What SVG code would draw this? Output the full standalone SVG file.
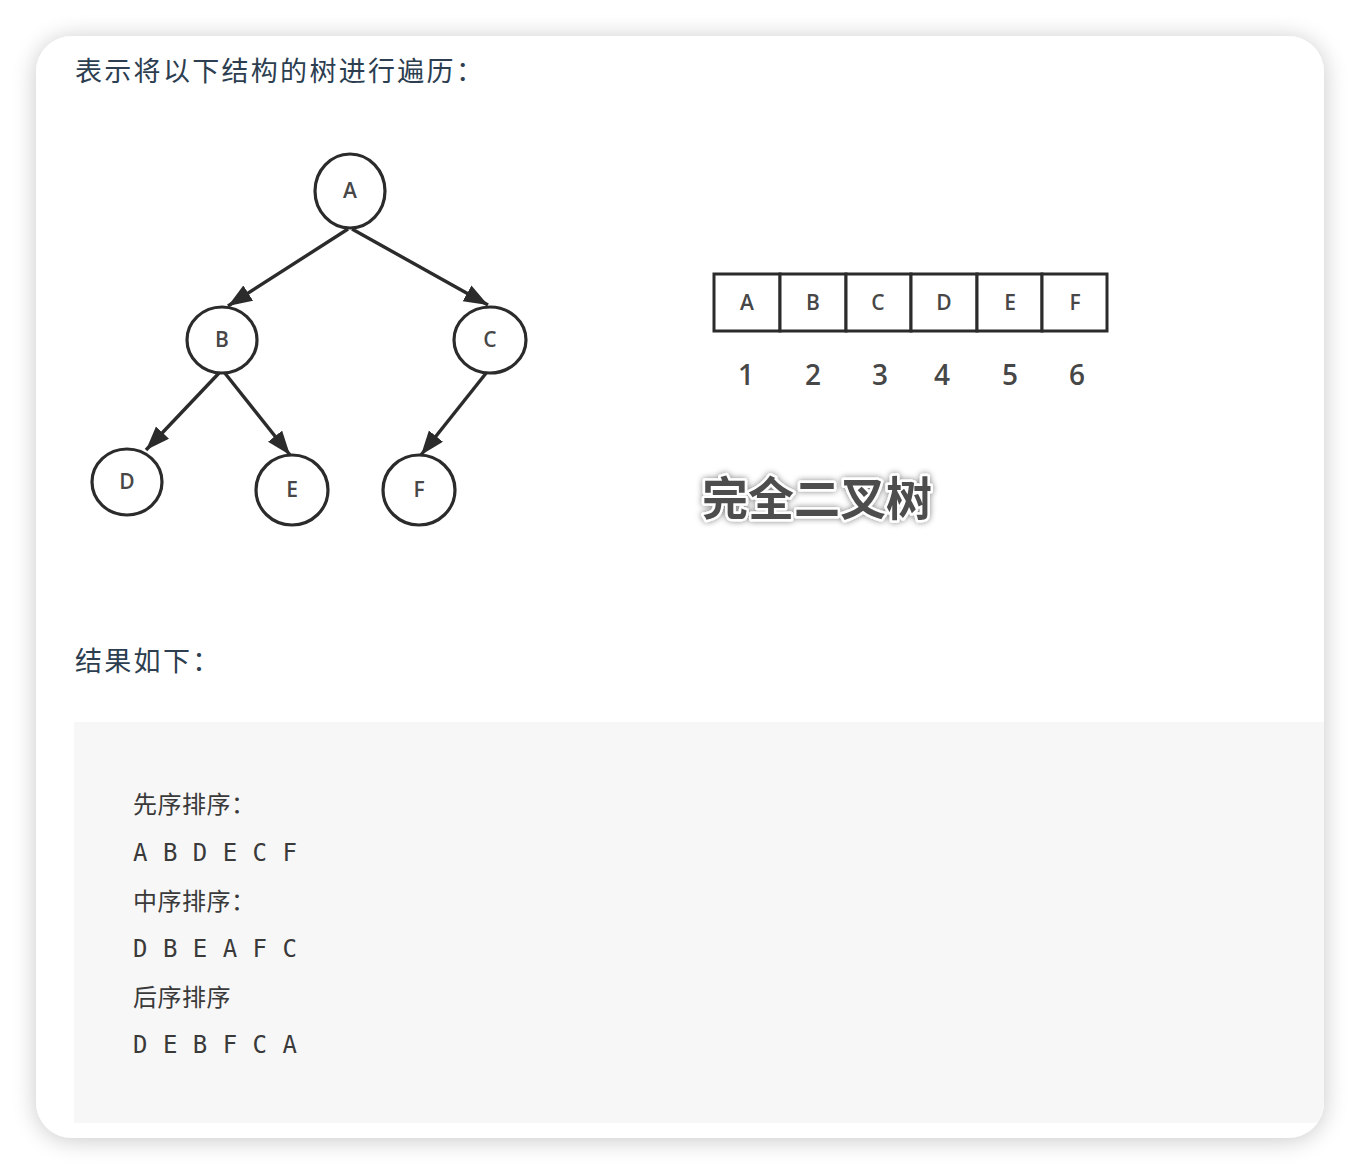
<svg xmlns="http://www.w3.org/2000/svg" width="1360" height="1174" viewBox="0 0 1360 1174">
<style>
.h{font-family:"Noto Sans CJK SC","Noto Sans",sans-serif;font-size:27px;letter-spacing:2.3px;fill:#2c3e50}
.code{font-family:"DejaVu Sans Mono","Noto Sans CJK SC",monospace;font-size:24px;letter-spacing:0.5px;fill:#3a3a3a}
.node ellipse{fill:#fff;stroke:#2b2b2b;stroke-width:3.2}
.lbl{font-family:"Open Sans","DejaVu Sans",sans-serif;font-size:21px;font-weight:600;fill:#474747;text-anchor:middle}
.num{font-family:"Open Sans","DejaVu Sans",sans-serif;font-size:28px;font-weight:600;fill:#474747;text-anchor:middle}
.edge{stroke:#2b2b2b;stroke-width:3.4;fill:none;marker-end:url(#arr)}
.cell{fill:#fff;stroke:#2b2b2b;stroke-width:3}
.big{font-family:"Noto Sans CJK SC",sans-serif;font-size:46px;font-weight:bold;fill:#4d4d4d;stroke:#fff;stroke-width:5px;paint-order:stroke;stroke-linejoin:round}
</style>
<defs>
<filter id="sh" x="-10%" y="-10%" width="120%" height="120%">
<feGaussianBlur in="SourceAlpha" stdDeviation="12"/>
<feOffset dy="2"/>
<feComponentTransfer><feFuncA type="linear" slope="0.22"/></feComponentTransfer>
<feMerge><feMergeNode/><feMergeNode in="SourceGraphic"/></feMerge>
</filter>
<filter id="glow" x="-10%" y="-30%" width="120%" height="160%">
<feGaussianBlur in="SourceAlpha" stdDeviation="3"/>
<feComponentTransfer><feFuncA type="linear" slope="0.5"/></feComponentTransfer>
<feMerge><feMergeNode/><feMergeNode in="SourceGraphic"/></feMerge>
</filter>
<clipPath id="card"><rect x="36" y="36" width="1288" height="1102" rx="36"/></clipPath>
<marker id="arr" markerUnits="userSpaceOnUse" markerWidth="26" markerHeight="20" refX="24" refY="9" orient="auto">
<path d="M0,0 L24,9 L0,18 Z" fill="#2b2b2b"/>
</marker>
</defs>
<rect width="1360" height="1174" fill="#fff"/>
<rect x="36" y="36" width="1288" height="1102" rx="36" fill="#fff" filter="url(#sh)"/>
<rect x="74" y="722" width="1260" height="401" fill="#f7f7f7" clip-path="url(#card)"/>

<text class="h" x="75" y="81">表示将以下结构的树进行遍历：</text>
<text class="h" x="75" y="671">结果如下：</text>

<g id="connectors">
<line class="edge" x1="348" y1="229" x2="228" y2="306"/>
<line class="edge" x1="352" y1="229" x2="488" y2="305"/>
<line class="edge" x1="220" y1="372" x2="146" y2="450"/>
<line class="edge" x1="224" y1="372" x2="290" y2="455"/>
<line class="edge" x1="487" y1="372" x2="421" y2="455"/>
</g>

<g id="node-A" class="node"><ellipse cx="350" cy="191" rx="35" ry="37"/><text class="lbl" x="350" y="198">A</text></g>
<g id="node-B" class="node"><ellipse cx="222" cy="340" rx="35" ry="33"/><text class="lbl" x="222" y="347">B</text></g>
<g id="node-C" class="node"><ellipse cx="490" cy="340" rx="36" ry="33"/><text class="lbl" x="490" y="347">C</text></g>
<g id="node-D" class="node"><ellipse cx="127" cy="482" rx="35" ry="33"/><text class="lbl" x="127" y="489">D</text></g>
<g id="node-E" class="node"><ellipse cx="292" cy="490" rx="36" ry="35"/><text class="lbl" x="292" y="497">E</text></g>
<g id="node-F" class="node"><ellipse cx="419" cy="490" rx="36" ry="35"/><text class="lbl" x="419" y="497">F</text></g>

<g id="array">
<rect class="cell" x="714" y="274" width="66" height="57"/>
<rect class="cell" x="780" y="274" width="66" height="57"/>
<rect class="cell" x="846" y="274" width="65" height="57"/>
<rect class="cell" x="911" y="274" width="66" height="57"/>
<rect class="cell" x="977" y="274" width="65" height="57"/>
<rect class="cell" x="1042" y="274" width="65" height="57"/>
<text class="lbl" x="747" y="310">A</text>
<text class="lbl" x="813" y="310">B</text>
<text class="lbl" x="878" y="310">C</text>
<text class="lbl" x="944" y="310">D</text>
<text class="lbl" x="1010" y="310">E</text>
<text class="lbl" x="1075" y="310">F</text>
<text class="num" x="746" y="385">1</text>
<text class="num" x="813" y="385">2</text>
<text class="num" x="880" y="385">3</text>
<text class="num" x="942" y="385">4</text>
<text class="num" x="1010" y="385">5</text>
<text class="num" x="1077" y="385">6</text>
</g>

<text class="big" x="702" y="515" filter="url(#glow)">完全二叉树</text>

<g id="code">
<text class="code" x="133" y="813">先序排序：</text>
<text class="code" x="133" y="861">A B D E C F</text>
<text class="code" x="133" y="910">中序排序：</text>
<text class="code" x="133" y="957">D B E A F C</text>
<text class="code" x="133" y="1006">后序排序</text>
<text class="code" x="133" y="1053">D E B F C A</text>
</g>
</svg>
